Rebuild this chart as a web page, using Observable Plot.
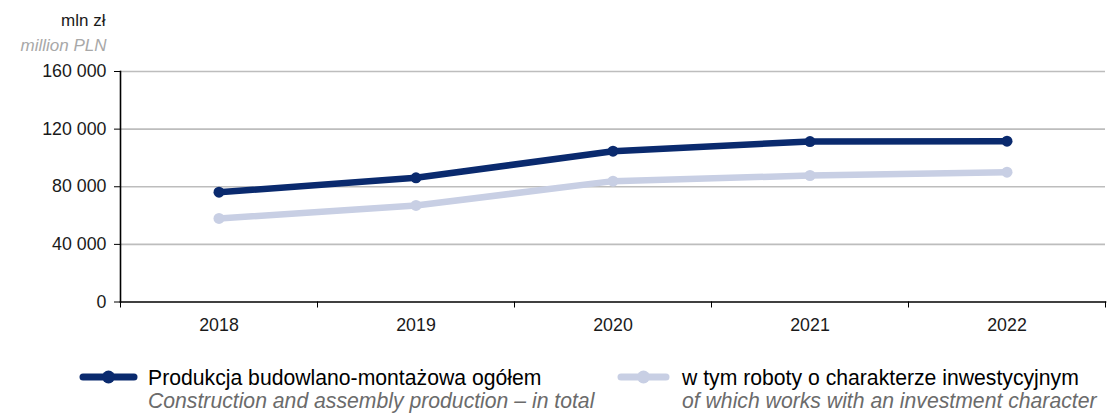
<!DOCTYPE html>
<html>
<head>
<meta charset="utf-8">
<script src="https://cdn.jsdelivr.net/npm/d3@7"></script>
<script src="https://cdn.jsdelivr.net/npm/@observablehq/plot@0.6"></script>
<style>
  html, body { margin: 0; padding: 0; background: #fff; }
  body { width: 1111px; height: 413px; overflow: hidden; font-family: "Liberation Sans", Arial, sans-serif; }
  #wrap { position: relative; width: 1111px; height: 413px; }
  #chart { position: absolute; left: 0; top: 0; }
  .leg { position: absolute; white-space: nowrap; }
  .leg .pl { font-size: 21.2px; color: #000; line-height: 22px; }
  .leg .en { font-size: 21.2px; color: #6b6b6b; font-style: italic; line-height: 23px; }
  .sw { position: absolute; }
</style>
</head>
<body>
<div id="wrap">
  <div id="chart"></div>
</div>
<script>
const years = [2018, 2019, 2020, 2021, 2022];
const totalValues = [76200, 86200, 104700, 111400, 111600];
const investValues = [58000, 67000, 83900, 87800, 90100];
const seriesNames = ["Produkcja budowlano-montażowa ogółem", "w tym roboty o charakterze inwestycyjnym"];
const seriesNamesEn = ["Construction and assembly production – in total", "of which works with an investment character"];
const seriesColors = ["#0a2a6e", "#c8cfe4"];
const yTicks = [0, 40000, 80000, 120000, 160000];
const unitLabel = "mln zł";
const unitLabelEn = "million PLN";

const data = [
  ...years.map((yr, i) => ({year: yr, value: totalValues[i], series: seriesNames[0]})),
  ...years.map((yr, i) => ({year: yr, value: investValues[i], series: seriesNames[1]}))
];
const boundaries = years.map(y => y - 0.5).concat([years[years.length - 1] + 0.5]);
const fmt = v => d3.format(",")(v).replace(/,/g, " ");

const W = 1111, H = 345;
const plot = Plot.plot({
  width: W,
  height: H,
  marginTop: 71,
  marginBottom: 43.5,
  marginLeft: 120,
  marginRight: 6,
  style: {fontFamily: "'Liberation Sans', Arial, sans-serif", background: "transparent"},
  x: {type: "linear", domain: [boundaries[0], boundaries[boundaries.length - 1]]},
  y: {domain: [0, 160000]},
  color: {domain: seriesNames, range: seriesColors},
  marks: [
    Plot.gridY(yTicks.filter(d => d > 0), {stroke: "#bdbdbd", strokeOpacity: 1, strokeWidth: 1.6}),
    Plot.axisY({ticks: yTicks, tickFormat: fmt, tickSize: 6, tickPadding: 8, fontSize: 17.8, color: "#1a1a1a", label: null, stroke: "#000"}),
    Plot.axisX({ticks: years, tickSize: 0, tickPadding: 16, tickFormat: d => String(d), fontSize: 17.8, color: "#1a1a1a", label: null}),
    Plot.axisX({ticks: boundaries, tickSize: 6, tickFormat: () => "", label: null, stroke: "#000"}),
    Plot.frame({anchor: "left", stroke: "#000", strokeWidth: 1.6}),
    Plot.frame({anchor: "bottom", stroke: "#000", strokeWidth: 1.6}),
    Plot.line(data, {x: "year", y: "value", stroke: "series", z: "series", strokeWidth: 6.5, strokeLinejoin: "round"}),
    Plot.dot(data, {x: "year", y: "value", fill: "series", r: 5.5}),
    Plot.text([unitLabel], {frameAnchor: "top-left", textAnchor: "end", dx: -15, dy: -58, fontSize: 17, fill: "#1a1a1a"}),
    Plot.text([unitLabelEn], {frameAnchor: "top-left", textAnchor: "end", dx: -14, dy: -33, fontSize: 17, fill: "#a8a8a8", fontStyle: "italic"})
  ]
});
document.getElementById("chart").appendChild(plot);

// Legend below the SVG
const wrap = document.getElementById("wrap");
const legendItems = [
  {sx: 80, sw: 57, tx: 148},
  {sx: 618, sw: 51, tx: 682}
];
legendItems.forEach((it, i) => {
  const svgNS = "http://www.w3.org/2000/svg";
  const sw = document.createElementNS(svgNS, "svg");
  sw.setAttribute("width", it.sw + 4);
  sw.setAttribute("height", 16);
  sw.setAttribute("class", "sw");
  sw.style.left = (it.sx - 2) + "px";
  sw.style.top = (377 - 8) + "px";
  const ln = document.createElementNS(svgNS, "line");
  ln.setAttribute("x1", 2 + 3); ln.setAttribute("x2", it.sw + 2 - 3);
  ln.setAttribute("y1", 8); ln.setAttribute("y2", 8);
  ln.setAttribute("stroke", seriesColors[i]); ln.setAttribute("stroke-width", 7);
  ln.setAttribute("stroke-linecap", "round");
  sw.appendChild(ln);
  const c = document.createElementNS(svgNS, "circle");
  c.setAttribute("cx", 2 + it.sw / 2); c.setAttribute("cy", 8); c.setAttribute("r", 6.5);
  c.setAttribute("fill", seriesColors[i]);
  sw.appendChild(c);
  wrap.appendChild(sw);
  const d = document.createElement("div");
  d.className = "leg";
  d.style.left = it.tx + "px";
  d.style.top = "367px";
  d.innerHTML = `<div class="pl">${seriesNames[i]}</div><div class="en">${seriesNamesEn[i]}</div>`;
  wrap.appendChild(d);
});
</script>
</body>
</html>
